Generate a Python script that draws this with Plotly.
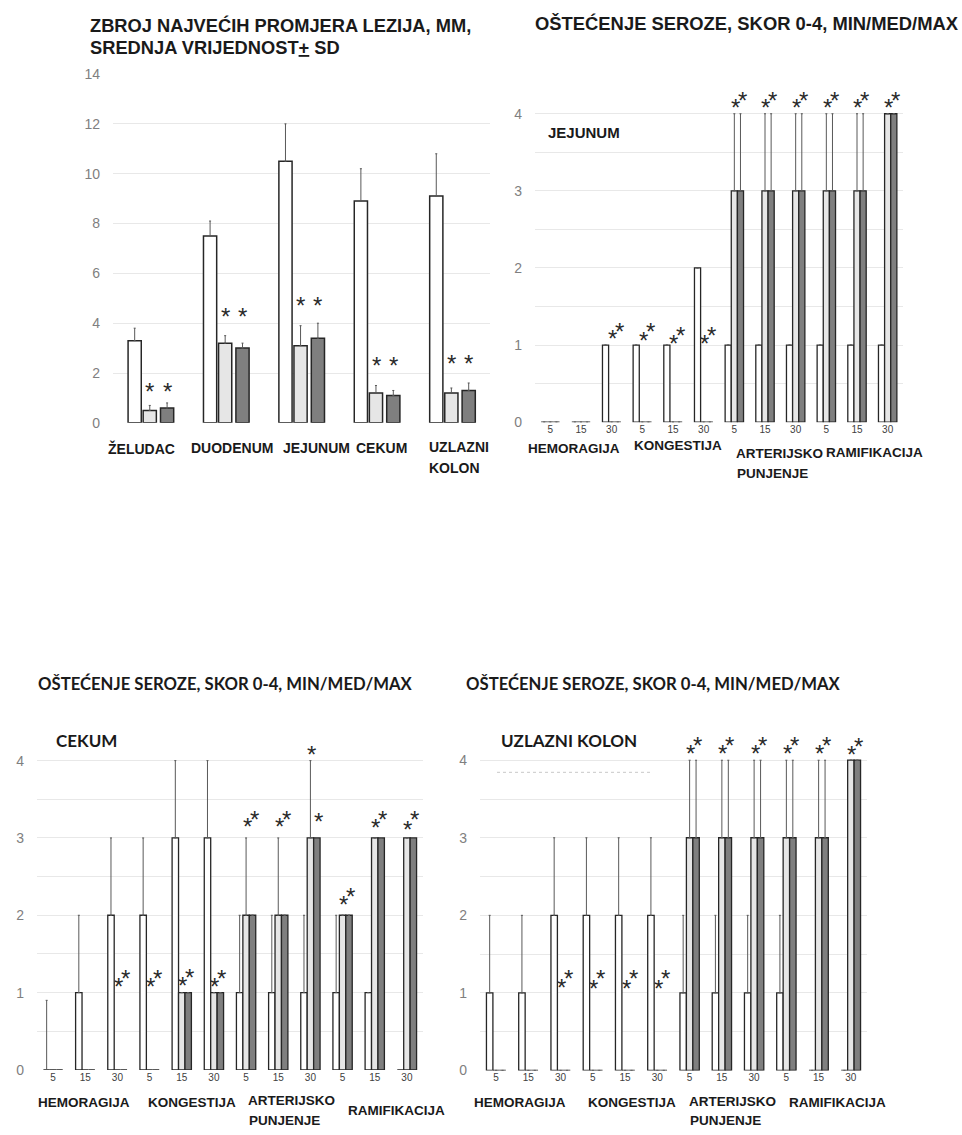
import plotly.graph_objects as go

W, H = 962, 1135

# ---------------- Panel A: zbroj najvecih promjera lezija (mm), mean ± SD
organs = ["ŽELUDAC", "DUODENUM", "JEJUNUM", "CEKUM", "UZLAZNI<br>KOLON"]
a_ctrl = [3.3, 7.5, 10.5, 8.9, 9.1]
a_ctrl_sd = [0.5, 0.6, 1.5, 1.3, 1.7]
a_g2 = [0.5, 3.2, 3.1, 1.2, 1.2]
a_g2_sd = [0.2, 0.3, 0.8, 0.3, 0.2]
a_g3 = [0.6, 3.0, 3.4, 1.1, 1.3]
a_g3_sd = [0.2, 0.2, 0.6, 0.2, 0.3]
a_star_y = [1.39, 4.4, 4.86, 2.45, 2.52]
a_yticks = [0, 2, 4, 6, 8, 10, 12, 14]

# ---------------- Serosa panels (score 0-4, min/med/max)
times = ["5", "15", "30", "5", "15", "30", "5", "15", "30", "5", "15", "30"]
lesions = ["HEMORAGIJA", "KONGESTIJA", "ARTERIJSKO<br>PUNJENJE", "RAMIFIKACIJA"]
s_yticks = [0, 1, 2, 3, 4]

# Jejunum
jej_ctrl = [0, 0, 1, 1, 1, 2, 1, 1, 1, 1, 1, 1]
jej_ctrl_max = [0, 0, 1, 1, 1, 2, 1, 1, 1, 1, 1, 1]
jej_g2 = [0, 0, 0, 0, 0, 0, 3, 3, 3, 3, 3, 4]
jej_g2_max = [0, 0, 0, 0, 0, 0, 4, 4, 4, 4, 4, 4]
jej_g3 = [0, 0, 0, 0, 0, 0, 3, 3, 3, 3, 3, 4]
jej_g3_max = [0, 0, 0, 0, 0, 0, 4, 4, 4, 4, 4, 4]
jej_star1 = [None, None, 1.13, 1.11, 1.06, 1.06, 4.13, 4.13, 4.13, 4.12, 4.12, 4.12]
jej_star2 = [None, None, 1.22, 1.22, 1.17, 1.17, 4.22, 4.22, 4.22, 4.22, 4.22, 4.22]

# Cekum
cek_ctrl = [0, 1, 2, 2, 3, 3, 1, 1, 1, 1, 1, 0]
cek_ctrl_max = [0.9, 2, 3, 3, 4, 4, 2, 2, 2, 2, 1, 0]
cek_g2 = [0, 0, 0, 0, 1, 1, 2, 2, 3, 2, 3, 3]
cek_g2_max = [0, 0, 0, 0, 1, 1, 3, 3, 4, 2, 3, 3]
cek_g3 = [0, 0, 0, 0, 1, 1, 2, 2, 3, 2, 3, 3]
cek_g3_max = [0, 0, 0, 0, 1, 1, 2, 2, 3, 2, 3, 3]
cek_star1 = [None, None, 1.12, 1.12, 1.14, 1.12, 3.19, 3.19, 4.13, 2.18, 3.18, 3.15]
cek_star2 = [None, None, 1.23, 1.23, 1.24, 1.23, 3.29, 3.29, 3.26, 2.29, 3.28, 3.28]

# Uzlazni kolon
uk_ctrl = [1, 1, 2, 2, 2, 2, 1, 1, 1, 1, 0, 0]
uk_ctrl_max = [2, 2, 3, 3, 3, 3, 2, 2, 2, 2, 0, 0]
uk_g2 = [0, 0, 0, 0, 0, 0, 3, 3, 3, 3, 3, 4]
uk_g2_max = [0, 0, 0, 0, 0, 0, 4, 4, 4, 4, 4, 4]
uk_g3 = [0, 0, 0, 0, 0, 0, 3, 3, 3, 3, 3, 4]
uk_g3_max = [0, 0, 0, 0, 0, 0, 4, 4, 4, 4, 4, 4]
uk_star1 = [None, None, 1.11, 1.10, 1.10, 1.10, 4.13, 4.13, 4.13, 4.13, 4.13, 4.12]
uk_star2 = [None, None, 1.23, 1.23, 1.23, 1.23, 4.23, 4.23, 4.23, 4.23, 4.23, 4.22]

# ---------------- styles
ARIAL = "Liberation Sans"
CALIBRI = "Lato"
FILLS = ["#ffffff", "#e6e6e6", "#7f7f7f"]
EDGE = "#262626"
GRID = "#e8e8e8"
ERRC = "#595959"
TICKC = "#7f7f7f"
STAR_FONT = dict(family=ARIAL, size=24, color="#2a2a2a")
STAR_SHIFT = -3.5

# the photographed page maps figure y to picture y as  8 + 0.9855*y
Y_OFF, Y_SCALE = 8.0, 0.9855


def px(x):
    return x / W


def py(y):
    return 1 - ((y - Y_OFF) / Y_SCALE) / H


fig = go.Figure()
annotations = []


def add_bars(xref, yref, n, series, offsets, width, line_w):
    xs = list(range(n))
    for (vals, plus), off, fill in zip(series, offsets, FILLS):
        fig.add_trace(go.Bar(
            x=xs, y=vals, xaxis=xref, yaxis=yref,
            offset=off, width=width,
            marker=dict(color=fill, line=dict(color=EDGE, width=line_w)),
            error_y=dict(type="data", symmetric=False, array=plus,
                         arrayminus=[0] * n, color=ERRC, thickness=1, width=1),
            showlegend=False, hoverinfo="skip"))


# ---- Panel A
n_a = len(organs)
add_bars("x", "y", n_a,
         [(a_ctrl, a_ctrl_sd), (a_g2, a_g2_sd), (a_g3, a_g3_sd)],
         [-0.30, -0.10, 0.13], 0.175, 1.5)
for i, ys in enumerate(a_star_y):
    for dx in (-0.012, 0.217):
        annotations.append(dict(x=i + dx, y=ys, xref="x", yref="y", text="*",
                                showarrow=False, yshift=STAR_SHIFT, font=STAR_FONT))


def serosa(xref, yref, ctrl, cmax, g2, g2max, g3, g3max, s1, s2):
    n = len(times)
    add_bars(xref, yref, n,
             [(ctrl, [m - v for m, v in zip(cmax, ctrl)]),
              (g2, [m - v for m, v in zip(g2max, g2)]),
              (g3, [m - v for m, v in zip(g3max, g3)])],
             [-0.30, -0.10, 0.10], 0.20, 1.3)
    for i in range(n):
        for ys, dx in ((s1[i], 0.03), (s2[i], 0.25)):
            if ys is not None:
                annotations.append(dict(x=i + dx, y=ys, xref=xref, yref=yref, text="*",
                                        showarrow=False, yshift=STAR_SHIFT, font=STAR_FONT))


serosa("x2", "y2", jej_ctrl, jej_ctrl_max, jej_g2, jej_g2_max, jej_g3, jej_g3_max, jej_star1, jej_star2)
serosa("x3", "y3", cek_ctrl, cek_ctrl_max, cek_g2, cek_g2_max, cek_g3, cek_g3_max, cek_star1, cek_star2)
serosa("x4", "y4", uk_ctrl, uk_ctrl_max, uk_g2, uk_g2_max, uk_g3, uk_g3_max, uk_star1, uk_star2)


def label(text, x, y, size, family=ARIAL, xanchor="left", yanchor="middle", color="#1a1a1a"):
    annotations.append(dict(x=px(x), y=py(y), xref="paper", yref="paper", text=text,
                            showarrow=False, xanchor=xanchor, yanchor=yanchor, align="left",
                            font=dict(family=family, size=size, color=color)))


# titles
label("<b>ZBROJ NAJVEĆIH PROMJERA LEZIJA, MM,</b>", 88, 25, 18.3)
label("<b>SREDNJA VRIJEDNOST<u>+</u> SD</b>", 88, 47, 18.3)
label("<b>OŠTEĆENJE SEROZE, SKOR 0-4, MIN/MED/MAX</b>", 533, 23, 18.4)
label("<b>OŠTEĆENJE SEROZE, SKOR 0-4, MIN/MED/MAX</b>", 36, 683, 16.7, CALIBRI)
label("<b>OŠTEĆENJE SEROZE, SKOR 0-4, MIN/MED/MAX</b>", 464, 683, 16.7, CALIBRI)
label("<b>JEJUNUM</b>", 546, 132, 15)
label("<b>CEKUM</b>", 54, 740, 17, CALIBRI)
label("<b>UZLAZNI KOLON</b>", 499, 740, 17, CALIBRI)

# panel A category labels
a_lab_pos = [(106, 448), (189, 448), (281, 448), (354, 448), (427, 447)]
for name, (xx, yy) in zip(organs, a_lab_pos):
    lines = name.split("<br>")
    for k, ln in enumerate(lines):
        label("<b>%s</b>" % ln, xx, yy + 21 * k, 14)

# serosa lesion labels
les_pos = {
    "top": ([(526, 448), (632, 445), (734, 453), (824, 452)], 20),
    "bl": ([(36, 1102), (146, 1102), (246, 1100), (346, 1110)], 20),
    "br": ([(472, 1102), (586, 1102), (687, 1101), (787, 1102)], 19),
}
for key, (pos, lsp) in les_pos.items():
    for name, (xx, yy) in zip(lesions, pos):
        for k, ln in enumerate(name.split("<br>")):
            label("<b>%s</b>" % ln, xx + (1 if k else 0), yy + lsp * k, 13.5)

# faint ghost line in uzlazni panel
fig.add_shape(type="line", xref="paper", yref="paper", x0=px(497), x1=px(650),
              y0=py(772), y1=py(772), line=dict(color="#c8c8c8", width=1, dash="dot"))

common_y = dict(showline=False, zeroline=False, gridcolor=GRID, gridwidth=1, ticks="",
                tickfont=dict(family=ARIAL, size=14, color=TICKC), ticklabelstandoff=12)
common_x = dict(showline=False, zeroline=False, showgrid=False, ticks="")

layout = dict(
    width=W, height=H, margin=dict(l=0, r=0, t=0, b=0),
    paper_bgcolor="white", plot_bgcolor="white", barmode="overlay",
    annotations=annotations,
    xaxis=dict(domain=[px(113), px(490)], range=[-0.5, n_a - 0.5], showticklabels=False,
               anchor="y", **common_x),
    yaxis=dict(domain=[py(422.7), py(74)], range=[0, 14], tickvals=a_yticks, anchor="x", **common_y),
)
s_dom = {
    "2": ([535, 903], [422, 75]),
    "3": ([37, 423], [1069.5, 721.5]),
    "4": ([480, 867], [1070, 721]),
}
for k, (xd, yd) in s_dom.items():
    layout["xaxis" + k] = dict(domain=[px(xd[0]), px(xd[1])], range=[-0.5, len(times) - 0.5],
                               tickvals=list(range(len(times))), ticktext=times,
                               tickfont=dict(family=ARIAL, size=10, color="#404040"),
                               anchor="y" + k, **common_x)
    layout["yaxis" + k] = dict(domain=[py(yd[0]), py(yd[1])], range=[0, 4.502], tickvals=s_yticks,
                               minor=dict(dtick=0.5, tick0=0, showgrid=True, gridcolor=GRID),
                               anchor="x" + k, **common_y)

fig.update_layout(**layout)

page_fix = (
    "var s=document.documentElement.style;s.margin='0';s.padding='0';s.overflow='hidden';"
    "var b=document.body.style;b.margin='0';b.padding='0';b.overflow='hidden';"
    "b.width='962px';b.height='1135px';"
    "var d=document.getElementById('{plot_id}');d.style.position='absolute';"
    "d.style.left='0px';d.style.top='0px';"
)
fig.write_html("out.html", config={"displayModeBar": False}, post_script=page_fix)
